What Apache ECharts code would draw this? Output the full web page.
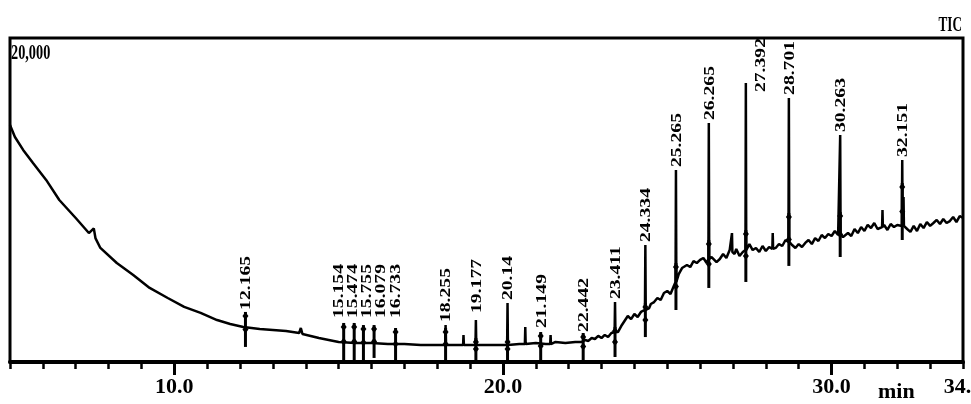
<!DOCTYPE html>
<html>
<head>
<meta charset="utf-8">
<script src="https://cdn.jsdelivr.net/npm/echarts@6/dist/echarts.min.js"></script>
<style>
html,body{margin:0;padding:0;background:#fff;}
#chart{width:971px;height:404px;}
</style>
</head>
<body>
<div id="chart"></div>
<script>
// ---- Data (retention time in min, intensity in counts) ----
const baselineTimes = [
  5.00, 5.15, 5.40, 5.70, 6.10, 6.50, 7.00, 7.40, 7.55, 7.60, 7.75, 8.25, 8.75, 9.25, 9.80,
  10.30, 10.80, 11.30, 11.70, 12.10, 12.60, 13.00, 13.40, 13.80, 13.85, 13.90, 14.40, 15.00,
  15.50, 16.00, 16.50, 17.00, 17.50, 18.00, 18.50, 19.00, 19.50, 20.00, 20.50, 21.00, 21.30,
  21.60, 21.90, 22.20, 22.40, 22.50, 22.60, 22.70, 22.80, 22.90, 23.00, 23.10, 23.20, 23.30,
  23.50, 23.60, 23.70, 23.80, 23.90, 24.00, 24.10, 24.20, 24.45, 24.50, 24.60, 24.70, 24.80,
  24.90, 25.00, 25.10, 25.20, 25.35, 25.45, 25.60, 25.70, 25.80, 25.90, 26.00, 26.10, 26.20,
  26.35, 26.50, 26.60, 26.70, 26.80, 26.90, 27.05, 27.10, 27.20, 27.30, 27.50, 27.60, 27.70,
  27.80, 27.90, 28.00, 28.10, 28.30, 28.40, 28.50, 28.60, 28.80, 28.90, 29.00, 29.10, 29.20,
  29.30, 29.40, 29.50, 29.60, 29.70, 29.80, 29.90, 30.00, 30.10, 30.20, 30.35, 30.50, 30.60,
  30.70, 30.80, 30.90, 31.00, 31.10, 31.20, 31.30, 31.40, 31.60, 31.70, 31.80, 31.90, 32.00,
  32.30, 32.40, 32.50, 32.60, 32.70, 32.80, 32.90, 33.00, 33.10, 33.20, 33.30, 33.40, 33.50,
  33.60, 33.70, 33.80, 33.90, 34.00
];
const baselineValues = [
  14630, 13890, 13090, 12280, 11240, 10000, 8890, 7960, 8250, 7650, 7040, 6110, 5370, 4570, 3950,
  3400, 3030, 2590, 2350, 2160, 2040, 1980, 1910, 1790, 2100, 1730, 1480, 1240,
  1170, 1170, 1110, 1110, 1050, 1050, 1050, 1050, 1050, 1050, 1110, 1170, 1110,
  1240, 1170, 1240, 1240, 1360, 1300, 1480, 1420, 1610, 1480, 1670, 1540, 1790,
  1850, 2220, 2530, 2840, 2650, 2960, 2780, 3090, 3330, 3580, 3700, 3950, 3830,
  4260, 4380, 4200, 4690, 5430, 5800, 5990, 5860, 6230, 6110, 6300, 6420, 6110,
  6480, 6170, 6360, 6670, 6420, 6910, 6670, 6980, 6540, 6790, 7280, 6910, 7040,
  6790, 7160, 6850, 7100, 7040, 7280, 7160, 7530, 7220, 7040, 7280, 7100, 7350,
  7530, 7280, 7650, 7470, 7840, 7650, 7900, 7780, 8090, 7840, 7720, 7960, 7780,
  8210, 7960, 8330, 8090, 8460, 8270, 8580, 8210, 8460, 8150, 8520, 8330, 8460,
  8210, 8030, 8400, 8090, 8520, 8270, 8640, 8400, 8580, 8770, 8520, 8830, 8580,
  8700, 8950, 8640, 9010, 8890
];

// narrow peaks (spikes) rising from the baseline
const spikeTimes = [18.255, 18.80, 19.177, 20.14, 20.68, 21.45, 23.411, 24.334, 25.265, 26.265,
                    26.97, 27.392, 28.21, 28.701, 30.263, 31.55, 32.151, 32.19];
const spikeTops  = [2280, 1670, 2590, 3640, 2160, 1670, 3700, 7220, 11850, 14750,
                    7960, 17220, 7960, 16300, 14010, 9380, 12470, 10190];
const spikeFeet  = [1050, 1050, 1050, 1050, 1110, 1110, 1850, 3210, 4940, 6360,
                    6790, 6910, 6980, 7410, 7840, 8330, 8400, 8400];

// labelled peaks
const peakTimes  = [12.165, 15.154, 15.474, 15.755, 16.079, 16.733, 18.255, 19.177, 20.14, 21.149,
                    22.442, 23.411, 24.334, 25.265, 26.265, 27.392, 28.701, 30.263, 32.151];
const peakLabels = ['12.165', '15.154', '15.474', '15.755', '16.079', '16.733', '18.255', '19.177', '20.14', '21.149',
                    '22.442', '23.411', '24.334', '25.265', '26.265', '27.392', '28.701', '30.263', '32.151'];
const labelAt    = [3030, 2530, 2530, 2530, 2530, 2530, 2280, 2840, 3640, 1910,
                    1670, 3700, 7220, 11850, 14750, 17220, 16300, 14010, 12470];
const markerHigh = [3090, 2410, 2410, 2280, 2280, 2100, 2100, 1480, 1480, 1850,
                    1790, 2160, 3640, 6110, 7530, 8150, 9200, 9260, 11050];
const markerLow  = [930, 120, 120, 120, 250, 120, 120, 120, 120, 120,
                    120, 310, 1540, 3210, 4570, 4940, 5930, 6480, 7530];

const xLabelValues = [10, 20, 30, 34];
const majorTickValues = [10, 20, 30];
const yMax = 20000;

// ---- build line data ----
const linePts = baselineTimes.map((t, i) => [t, baselineValues[i]]);
spikeTimes.forEach((t, i) => {
  linePts.push([t - 0.012, spikeFeet[i]], [t, spikeTops[i]], [t + 0.012, spikeFeet[i]]);
});
linePts.sort((a, b) => a[0] - b[0]);

const SERIF = '"Liberation Serif", "Times New Roman", serif';
const LABEL_FONT = 'bold 15px ' + SERIF;
const LABEL_SCALE = 1.31;
const chart = echarts.init(document.getElementById('chart'), null, {renderer: 'canvas'});

// spread crowded peak labels apart horizontally (like the instrument software does)
function spreadLabels(xs, minGap) {
  const out = xs.slice();
  for (let it = 0; it < 80; it++) {
    for (let j = 0; j < out.length - 1; j++) {
      const d = out[j + 1] - out[j];
      if (d < minGap) {
        const s = (minGap - d) / 2;
        out[j] -= s; out[j + 1] += s;
      }
    }
  }
  return out;
}

const option = {
  animation: false,
  backgroundColor: '#fff',
  grid: {left: 10, right: 8, top: 38, bottom: 42, show: true, borderColor: '#000', borderWidth: 3,
         containLabel: false, outerBoundsMode: 'none'},
  xAxis: [{
    type: 'value', min: 5, max: 34, interval: 1,
    axisLine: {lineStyle: {color: '#000', width: 4}},
    axisTick: {length: 7, lineStyle: {color: '#000', width: 2.5}},
    axisLabel: {
      customValues: xLabelValues,
      formatter: v => v.toFixed(1),
      color: '#000', fontFamily: SERIF, fontWeight: 'bold', fontSize: 22, margin: 14,
      hideOverlap: false
    },
    splitLine: {show: false}
  }, {
    type: 'value', min: 5, max: 34, position: 'bottom',
    axisLine: {show: false},
    axisTick: {show: true, customValues: majorTickValues, length: 13, lineStyle: {color: '#000', width: 3}},
    axisLabel: {show: false},
    splitLine: {show: false}
  }],
  yAxis: {type: 'value', min: 0, max: yMax, show: false, splitLine: {show: false}},
  graphic: [
    {type: 'text', x: 962, y: 14, scaleX: 0.6,
     style: {text: 'TIC', font: 'bold 22px ' + SERIF, fill: '#000', align: 'right', verticalAlign: 'top'}},
    {type: 'text', x: 11, y: 43, scaleX: 0.68,
     style: {text: '20,000', font: 'bold 21px ' + SERIF, fill: '#000', align: 'left', verticalAlign: 'top'}},
    {type: 'text', x: 878, y: 381,
     style: {text: 'min', font: 'bold 22px ' + SERIF, fill: '#000', align: 'left', verticalAlign: 'top'}}
  ],
  series: [
    {
      type: 'line', xAxisIndex: 0, data: linePts, showSymbol: false, symbol: 'none',
      lineStyle: {color: '#000', width: 2.5}, clip: true, z: 2
    },
    {
      type: 'custom', xAxisIndex: 0, clip: false, z: 3,
      data: peakTimes.map((t, i) => [t, markerLow[i], markerHigh[i]]),
      encode: {x: 0, y: [1, 2]},
      renderItem: function (params, api) {
        const lo = api.coord([api.value(0), api.value(1)]);
        const hi = api.coord([api.value(0), api.value(2)]);
        const x = lo[0];
        const ym = (lo[1] + hi[1]) / 2;
        const dia = (cy) => ({
          type: 'polygon',
          shape: {points: [[x, cy - 4], [x + 3, cy], [x, cy + 4], [x - 3, cy]]},
          style: {fill: '#000'}
        });
        return {
          type: 'group',
          children: [
            {type: 'line', shape: {x1: x, y1: lo[1], x2: x, y2: hi[1]}, style: {stroke: '#000', lineWidth: 3}},
            dia(hi[1] + 4),
            dia(ym)
          ]
        };
      }
    },
    {
      type: 'custom', xAxisIndex: 0, clip: false, z: 4,
      data: peakTimes.map((t, i) => [t, labelAt[i], i]),
      encode: {x: 0, y: 1},
      renderItem: function (params, api) {
        const idx = api.value(2);
        const p = api.coord([api.value(0), api.value(1)]);
        const allX = peakTimes.map(t => api.coord([t, 0])[0]);
        const xs = spreadLabels(allX, 14);
        const txt = peakLabels[idx];
        const len = echarts.format.getTextRect(txt, LABEL_FONT).width * LABEL_SCALE;
        const gridTop = params.coordSys.y;
        let x = xs[idx] + 1;
        let yb = p[1] - 3;
        if (yb - len < gridTop - 2) {
          x += 14;
          yb = gridTop + len;
        }
        return {
          type: 'text', x: x, y: yb, rotation: Math.PI / 2, scaleX: LABEL_SCALE,
          style: {text: txt, font: LABEL_FONT, fill: '#000', align: 'left', verticalAlign: 'middle'}
        };
      }
    }
  ]
};
chart.setOption(option);
</script>
</body>
</html>
